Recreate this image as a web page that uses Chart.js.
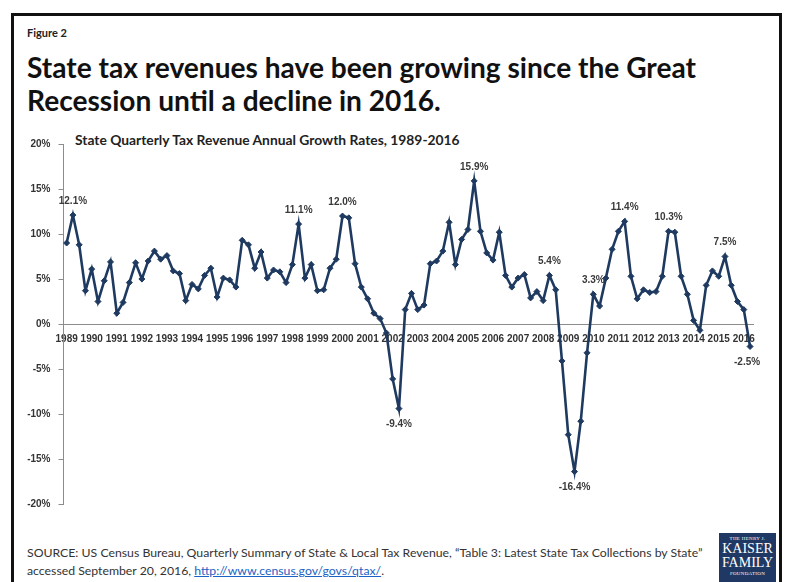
<!DOCTYPE html>
<html>
<head>
<meta charset="utf-8">
<script src="https://cdn.jsdelivr.net/npm/chart.js@4.4.1/dist/chart.umd.min.js"></script>
<style>
html,body{margin:0;padding:0;background:#fff;}
body{width:786px;height:582px;position:relative;overflow:hidden;font-family:Lato,"Liberation Sans",sans-serif;}
#frame{position:absolute;left:11px;top:13px;width:771px;height:640px;border:3px solid #111;box-sizing:border-box;}
.t{position:absolute;white-space:nowrap;color:#111;}
#fig{left:27px;top:26px;font-weight:bold;font-size:11px;line-height:14px;color:#222;}
#title{left:27px;top:51px;font-weight:bold;font-size:28px;line-height:33px;color:#111;}
#sub{left:75px;top:133px;font-weight:bold;font-size:12px;line-height:14px;color:#222;}
#src{left:27px;top:544px;font-size:11.5px;line-height:18px;color:#333;}
#src a{color:#1a62c4;text-decoration:underline;}
#chartbox{position:absolute;left:0;top:130px;width:770px;height:390px;}
#logo{position:absolute;left:719px;top:533px;width:57px;height:49px;background:#1f3864;color:#fff;text-align:center;font-family:"Liberation Serif",serif;}
#logo .s{font-size:5px;line-height:7px;letter-spacing:0.3px;}
#logo .b{font-size:14px;line-height:14px;}
</style>
</head>
<body>
<div id="frame"></div>
<div class="t" id="fig">Figure 2</div>
<div class="t" id="title"><span id="tl1">State tax revenues have been growing since the Great</span><br><span>Recession until a decline in 2016.</span></div>
<div class="t" id="sub"><span id="subs">State Quarterly Tax Revenue Annual Growth Rates, 1989-2016</span></div>
<div class="t" id="src"><span id="src1">SOURCE: US Census Bureau, Quarterly Summary of State &amp; Local Tax Revenue, “Table 3: Latest State Tax Collections by State”</span><br>accessed September 20, 2016, <a href="#">http://www.census.gov/govs/qtax/</a>.</div>
<div id="logo"><div class="s" style="margin-top:2px">THE HENRY J.</div><div class="b">KAISER</div><div class="b">FAMILY</div><div class="s">FOUNDATION</div></div>
<div id="chartbox"><canvas id="c"></canvas></div>
<script>
// ---- data ----
const years = [1989,1990,1991,1992,1993,1994,1995,1996,1997,1998,1999,2000,2001,2002,
               2003,2004,2005,2006,2007,2008,2009,2010,2011,2012,2013,2014,2015,2016];
const quarters = ["Q1","Q2","Q3","Q4"];
// quarterly annual growth rates (%), 1989 Q1 – 2016 Q2
const growth = [
  9.0, 12.1, 8.8, 3.7,     // 1989
  6.1, 2.5, 4.8, 6.9,      // 1990
  1.2, 2.4, 4.6, 6.8,      // 1991
  5.0, 7.0, 8.1, 7.2,      // 1992
  7.6, 5.9, 5.6, 2.6,      // 1993
  4.4, 3.9, 5.4, 6.2,      // 1994
  3.0, 5.1, 4.9, 4.1,      // 1995
  9.3, 8.8, 6.2, 8.0,      // 1996
  5.1, 6.0, 5.8, 4.6,      // 1997
  6.6, 11.1, 5.1, 6.6,     // 1998
  3.7, 3.8, 6.2, 7.2,      // 1999
  12.0, 11.8, 6.7, 4.1,    // 2000
  2.8, 1.2, 0.6, -1.0,     // 2001
  -6.1, -9.4, 1.6, 3.4,    // 2002
  1.6, 2.1, 6.7, 7.0,      // 2003
  8.1, 11.3, 6.6, 9.4,     // 2004
  10.5, 15.9, 10.3, 7.9,   // 2005
  7.1, 10.2, 5.4, 4.1,     // 2006
  5.1, 5.5, 2.9, 3.6,      // 2007
  2.6, 5.4, 3.8, -4.1,     // 2008
  -12.3, -16.4, -10.8, -3.2, // 2009
  3.3, 2.0, 5.1, 8.3,      // 2010
  10.3, 11.4, 5.3, 2.8,    // 2011
  3.8, 3.5, 3.6, 5.3,      // 2012
  10.3, 10.2, 5.3, 3.3,    // 2013
  0.4, -0.7, 4.3, 5.9,     // 2014
  5.3, 7.5, 4.3, 2.5,      // 2015
  1.6, -2.5                // 2016
];
const labeledPoints = [1, 37, 44, 53, 65, 77, 81, 84, 89, 96, 105, 109];
const yTicks = [-20, -15, -10, -5, 0, 5, 10, 15, 20];

const categories = [];
years.forEach(y => quarters.forEach(q => categories.push(y + " " + q)));
categories.length = growth.length;
const tickText = categories.map(c => c.endsWith("Q1") ? c.slice(0, 4) : "");

// ---- fit text widths ----
function fit(el, w){
  const s = parseFloat(getComputedStyle(el.parentNode).fontSize);
  const cur = el.getBoundingClientRect().width;
  el.parentNode.style.fontSize = (s * w / cur) + "px";
}
fit(document.getElementById("tl1"), 669);
fit(document.getElementById("subs"), 385);
fit(document.getElementById("src1"), 676);

const navy = "#1f3a60";
const pointLabels = {
  id: "pointLabels",
  afterDatasetsDraw(chart){
    const meta = chart.getDatasetMeta(0);
    const ctx = chart.ctx;
    ctx.save();
    ctx.font = 'bold 10px "Liberation Sans", Arial, sans-serif';
    ctx.fillStyle = "#3a3a3a";
    ctx.textAlign = "center";
    ctx.textBaseline = "middle";
    labeledPoints.forEach(i => {
      const p = meta.data[i];
      const v = growth[i];
      const dy = v < 0 ? 16 : -14;
      ctx.fillText(v.toFixed(1) + "%", p.x - (i === growth.length - 1 ? 3 : 0), p.y + dy);
    });
    ctx.restore();
  }
};

new Chart(document.getElementById("c"), {
  type: "line",
  data: {
    labels: categories,
    datasets: [{
      data: growth,
      borderColor: navy,
      backgroundColor: navy,
      borderWidth: 2.6,
      pointStyle: "rectRot",
      pointRadius: 3,
      pointBackgroundColor: navy,
      pointBorderColor: navy,
      pointBorderWidth: 1,
      tension: 0,
      fill: false
    }]
  },
  options: {
    responsive: true,
    maintainAspectRatio: false,
    animation: false,
    events: [],
    layout: { padding: { top: 13, bottom: 16, right: 16.8, left: 0 } },
    plugins: { legend: { display: false }, tooltip: { enabled: false }, title: { display: false } },
    scales: {
      x: {
        type: "category",
        position: { y: 0 },
        offset: true,
        grid: { display: false, drawTicks: false },
        border: { display: true, color: "#8c8c8c", width: 1 },
        ticks: {
          autoSkip: false, maxRotation: 0, minRotation: 0, padding: 9,
          color: "#333",
          font: { family: '"Liberation Sans", Arial, sans-serif', size: 10, weight: "bold" },
          callback: (v, i) => tickText[i]
        }
      },
      y: {
        min: -20, max: 20,
        afterBuildTicks: s => { s.ticks = yTicks.map(v => ({ value: v })); },
        afterFit: s => { s.width = 63.5; },
        grid: { drawOnChartArea: false, drawTicks: true, tickLength: 5, color: "#8c8c8c" },
        border: { display: true, color: "#8c8c8c", width: 1 },
        ticks: {
          padding: 8, color: "#333",
          font: { family: '"Liberation Sans", Arial, sans-serif', size: 10, weight: "bold" },
          callback: v => v + "%"
        }
      }
    }
  },
  plugins: [pointLabels]
});
</script>
</body>
</html>
